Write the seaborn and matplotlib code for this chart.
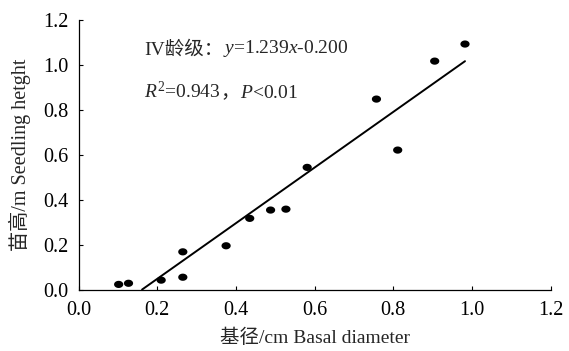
import numpy as np
import pandas as pd
import matplotlib
matplotlib.use('Agg')
import matplotlib.pyplot as plt
from matplotlib.path import Path
import seaborn as sns

# basal diameter (cm) vs seedling height (m), age class IV
basal = [0.102, 0.127, 0.21, 0.265, 0.265, 0.375, 0.435, 0.488, 0.527, 0.581, 0.757, 0.811, 0.905, 0.982]
height = [0.023, 0.028, 0.042, 0.168, 0.055, 0.195, 0.317, 0.354, 0.358, 0.544, 0.848, 0.621, 1.017, 1.093]

# fitted line y = slope * x + intercept
slope = 1.239
intercept = -0.200

xticks = [0.0, 0.2, 0.4, 0.6, 0.8, 1.0, 1.2]
yticks = [0.0, 0.2, 0.4, 0.6, 0.8, 1.0, 1.2]

sns.set_style('ticks')
latin = 'Liberation Serif'
cjk = 'Noto Sans CJK SC'
plt.rcParams['font.family'] = [latin, cjk]
plt.rcParams['mathtext.fontset'] = 'custom'
plt.rcParams['mathtext.rm'] = latin
plt.rcParams['mathtext.it'] = latin + ':italic'
plt.rcParams['axes.unicode_minus'] = False

fs = 14

df = pd.DataFrame({'basal': basal, 'height': height})
x0 = -intercept / slope
fit = pd.DataFrame({'basal': [x0, max(basal)]})
fit['height'] = slope * fit['basal'] + intercept

# slightly wide dot, like the source
t = np.linspace(0, 2 * np.pi, 40)
dot = Path(np.column_stack([np.cos(t), 0.78 * np.sin(t)]))

fig = plt.figure(figsize=(5.69, 3.51), dpi=100)
ax = fig.add_axes([0.138, 0.175, 0.830, 0.768])

sns.lineplot(data=fit, x='basal', y='height', ax=ax, color='black', linewidth=1.4)
sns.scatterplot(data=df, x='basal', y='height', ax=ax, color='black', s=44,
                marker=dot, edgecolor='none', zorder=3)

ax.set_xlim(0, 1.2)
ax.set_ylim(0, 1.2)
ax.set_xticks(xticks)
ax.set_yticks(yticks)
ax.set_xticklabels([f'{v:.1f}' for v in xticks])
ax.set_yticklabels([f'{v:.1f}' for v in yticks])
ax.tick_params(direction='in', length=3, width=0.8, labelsize=14.6, colors='black')
ax.tick_params(axis='x', pad=8.5)
ax.tick_params(axis='y', pad=7)
for sp in ['left', 'bottom']:
    ax.spines[sp].set_linewidth(0.9)
    ax.spines[sp].set_color('black')
sns.despine(ax=ax)

ax.set_xlabel('基径/cm Basal diameter', fontsize=fs, labelpad=6)
ax.set_ylabel('苗高/m Seedling hetght', fontsize=14.5, labelpad=9)

# equation text, chained pieces so CJK and italic math sit on one line
t1 = ax.text(0.166, 1.044, 'IV龄级：', fontsize=fs, va='baseline', ha='left')
ax.annotate(r'$y$=1.239$x$-0.200', xy=(1, 0), xycoords=t1, fontsize=fs,
            family=latin, va='bottom', ha='left')
t3 = ax.text(0.166, 0.851, r'$R^{\mathrm{2}}$=0.943', fontsize=fs, family=latin,
             va='baseline', ha='left')
t4 = ax.annotate('，', xy=(1, 0), xycoords=t3, fontsize=fs, va='bottom', ha='left')
ax.annotate(r'$P$<0.01', xy=(1, 0), xycoords=t4, fontsize=fs, family=latin,
            va='bottom', ha='left')

fig.savefig('out.png', dpi=100)
